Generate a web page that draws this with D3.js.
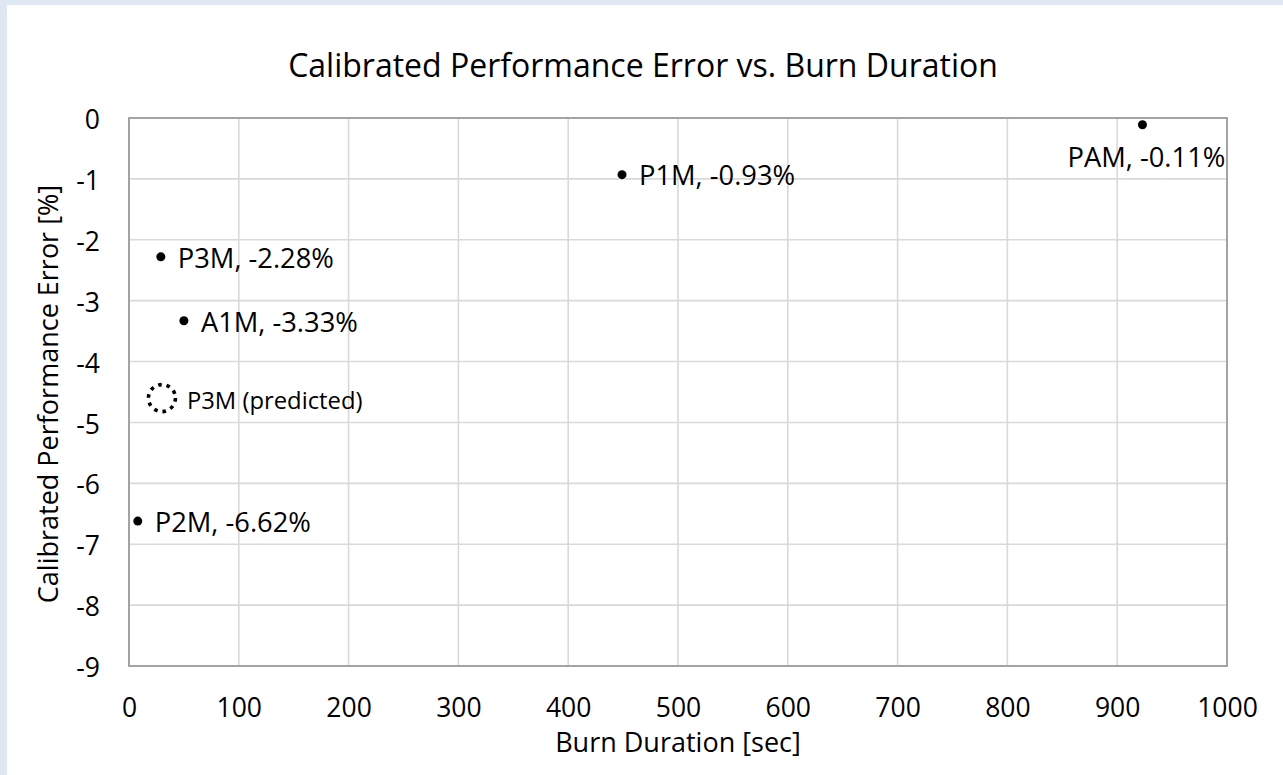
<!DOCTYPE html>
<html>
<head>
<meta charset="utf-8">
<script src="https://cdn.jsdelivr.net/npm/d3@7"></script>
<style>
  html, body { margin: 0; padding: 0; background: #dfe8f2; }
  svg { display: block; }
  text { font-family: "Open Sans", "Noto Sans", sans-serif; fill: #000; }
</style>
</head>
<body>
<svg id="chart" width="1283" height="775"></svg>
<script>
// ---- data ----
const names = ["P2M", "P3M", "A1M", "P1M", "PAM"];
const durations = [8, 29, 50, 449, 923];
const errors = [-6.62, -2.28, -3.33, -0.93, -0.11];
const labelPos = ["right", "right", "right", "right", "below"];

const predictedName = "P3M (predicted)";
const predictedDuration = [30];
const predictedError = [-4.6];

const xTicks = [0, 100, 200, 300, 400, 500, 600, 700, 800, 900, 1000];
const yTicks = [0, -1, -2, -3, -4, -5, -6, -7, -8, -9];

const titleText = "Calibrated Performance Error vs. Burn Duration";
const xTitle = "Burn Duration [sec]";
const yTitle = "Calibrated Performance Error [%]";

// ---- layout ----
const W = 1283, H = 775;
const plot = { left: 129, right: 1227, top: 118, bottom: 666 };

const svg = d3.select("#chart");

svg.append("rect").attr("x", 0).attr("y", 0).attr("width", W).attr("height", H).attr("fill", "#dfe8f2");
svg.append("rect").attr("x", 7).attr("y", 5).attr("width", W - 7).attr("height", H - 5).attr("fill", "#ffffff");

const x = d3.scaleLinear().domain([0, 1000]).range([plot.left, plot.right]);
const y = d3.scaleLinear().domain([-9, 0]).range([plot.bottom, plot.top]);

const fmt = d => String(d); // hyphen-minus like the original

// gridlines
const grid = svg.append("g");
grid.selectAll("line.vx").data(xTicks).join("line")
  .attr("x1", d => x(d)).attr("x2", d => x(d))
  .attr("y1", plot.top).attr("y2", plot.bottom)
  .attr("stroke", "#d9d9d9").attr("stroke-width", 1.6);
grid.selectAll("line.hy").data(yTicks).join("line")
  .attr("y1", d => y(d)).attr("y2", d => y(d))
  .attr("x1", plot.left).attr("x2", plot.right)
  .attr("stroke", "#d9d9d9").attr("stroke-width", 1.6);

// plot border
svg.append("rect")
  .attr("x", plot.left).attr("y", plot.top)
  .attr("width", plot.right - plot.left).attr("height", plot.bottom - plot.top)
  .attr("fill", "none").attr("stroke", "#a3a3a3").attr("stroke-width", 2);

// axes
const xAxis = svg.append("g")
  .attr("transform", `translate(0,${plot.bottom})`)
  .call(d3.axisBottom(x).tickValues(xTicks).tickSize(0).tickPadding(0).tickFormat(fmt));
xAxis.select(".domain").remove();
xAxis.selectAll("text")
  .attr("y", 51).attr("dy", null)
  .style("font-family", '"Open Sans", sans-serif')
  .style("font-size", "26.5px").attr("fill", "#000");

const yAxis = svg.append("g")
  .attr("transform", `translate(${plot.left},0)`)
  .call(d3.axisLeft(y).tickValues(yTicks).tickSize(0).tickPadding(0).tickFormat(fmt));
yAxis.select(".domain").remove();
yAxis.selectAll("text")
  .attr("x", -29).attr("dy", "0.4em")
  .style("font-family", '"Open Sans", sans-serif')
  .style("font-size", "26.5px").attr("fill", "#000");

// titles
svg.append("text")
  .attr("x", 643).attr("y", 77)
  .attr("text-anchor", "middle")
  .style("font-size", "32px")
  .text(titleText);

svg.append("text")
  .attr("x", (plot.left + plot.right) / 2).attr("y", 752)
  .attr("text-anchor", "middle")
  .style("font-size", "27px")
  .text(xTitle);

svg.append("text")
  .attr("transform", `translate(58,${(plot.top + plot.bottom) / 2 + 2}) rotate(-90)`)
  .attr("text-anchor", "middle")
  .style("font-size", "27px")
  .text(yTitle);

// points
const pts = names.map((n, i) => ({ name: n, d: durations[i], e: errors[i], pos: labelPos[i] }));

svg.append("g").selectAll("circle").data(pts).join("circle")
  .attr("cx", d => x(d.d)).attr("cy", d => y(d.e))
  .attr("r", 4.5).attr("fill", "#000");

svg.append("g").selectAll("text").data(pts).join("text")
  .attr("x", d => d.pos === "below" ? x(d.d) + 4 : x(d.d) + 17)
  .attr("y", d => d.pos === "below" ? y(d.e) + 32 : y(d.e) + 1)
  .attr("dy", "0.36em")
  .attr("text-anchor", d => d.pos === "below" ? "middle" : "start")
  .style("font-size", "27.3px")
  .text(d => `${d.name}, ${d.e.toFixed(2)}%`);

// predicted point
svg.append("g").selectAll("circle").data(predictedDuration).join("circle")
  .attr("cx", (d) => x(d)).attr("cy", (d, i) => y(predictedError[i]))
  .attr("r", 13.5)
  .attr("fill", "none").attr("stroke", "#000")
  .attr("stroke-width", 3.6)
  .attr("stroke-dasharray", "3.6,4.88");

svg.append("g").selectAll("text").data(predictedDuration).join("text")
  .attr("x", d => x(d) + 25).attr("y", (d, i) => y(predictedError[i]) + 2)
  .attr("dy", "0.36em")
  .style("font-size", "23.8px")
  .text(predictedName);
</script>
</body>
</html>
